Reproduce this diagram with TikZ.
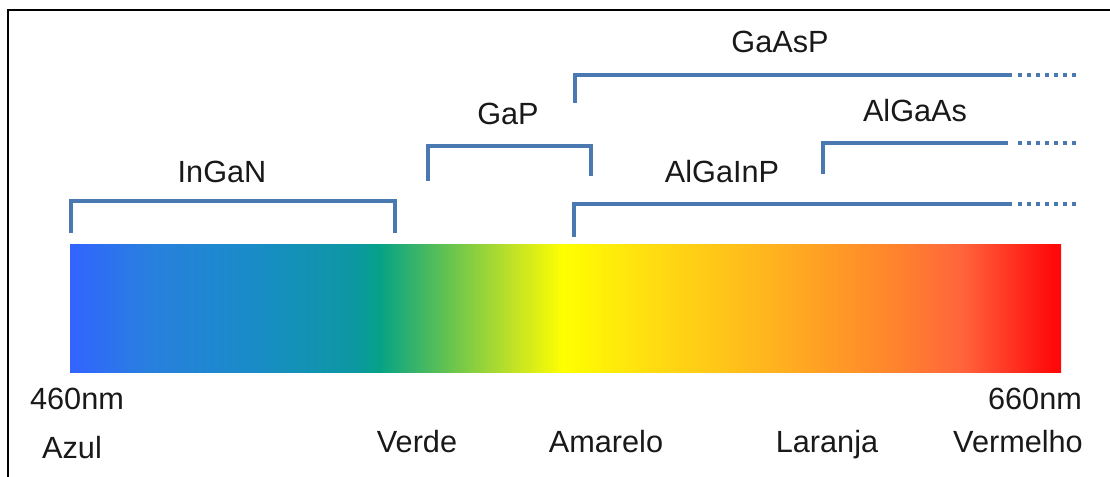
\documentclass[tikz,border=0pt]{standalone}
\usepackage{fontspec}
\setmainfont{Liberation Sans}
\usetikzlibrary{calc}

\definecolor{specA}{RGB}{50,100,255}
\definecolor{specB}{RGB}{40,128,222}
\definecolor{specC}{RGB}{25,140,200}
\definecolor{specD}{RGB}{12,152,160}
\definecolor{specE}{RGB}{5,162,135}
\definecolor{specF}{RGB}{100,195,80}
\definecolor{specG}{RGB}{190,225,40}
\definecolor{specH}{RGB}{255,255,0}
\definecolor{specI}{RGB}{255,225,15}
\definecolor{specJ}{RGB}{255,180,30}
\definecolor{specK}{RGB}{255,130,45}
\definecolor{specL}{RGB}{255,100,60}
\definecolor{specM}{RGB}{255,10,10}
\definecolor{bracketblue}{RGB}{74,120,176}

% visible spectrum, 460 nm (blue) to 660 nm (red); the bar spans 25bp..75bp
\pgfdeclarehorizontalshading{spectrum}{100bp}{%
  color(0bp)=(specA);
  color(25bp)=(specA);
  color(29.04bp)=(specB);
  color(34.24bp)=(specC);
  color(39.5bp)=(specD);
  color(40.6bp)=(specE);
  color(44.03bp)=(specF);
  color(47.26bp)=(specG);
  color(49.88bp)=(specH);
  color(53.77bp)=(specI);
  color(60.28bp)=(specJ);
  color(66.79bp)=(specK);
  color(70.02bp)=(specL);
  color(74.55bp)=(specM);
  color(75bp)=(specM);
  color(100bp)=(specM)}

\tikzset{
  frame/.style={line width=1.9pt, black},
  bracket/.style={line width=2.6pt, bracketblue, line join=miter},
  extension/.style={line width=2.6pt, bracketblue, dash pattern=on 3pt off 3.75pt},
  lbl/.style={font=\fontsize{23}{27}\selectfont, anchor=base, inner sep=0pt, text=black!90},
}

\begin{document}
\begin{tikzpicture}[x=0.75pt, y=-0.75pt]
  \useasboundingbox (0,0) rectangle (1110,477);
  \fill[white] (0,0) rectangle (1110,477);

  % outer frame: top and left edges
  \draw[frame] (8,477) -- (8,10) -- (1110,10);

  % spectrum bar
  \shade[shading=spectrum] (70,245) rectangle (1061,372);

  % InGaN
  \coordinate (ingan1) at (71,233);
  \coordinate (ingan2) at (395,233);
  \draw[bracket] (ingan1) |- (233,201) -| (ingan2);
  \node[lbl] (tingan) at (222,183) {InGaN};

  % GaP
  \coordinate (gap1) at (428,181);
  \coordinate (gap2) at (591,176);
  \draw[bracket] (gap1) |- (510,146) -| (gap2);
  \node[lbl] (tgap) at (508,125) {GaP};

  % GaAsP
  \coordinate (gaasp1) at (575,103);
  \coordinate (gaasp2) at (1012,75);
  \coordinate (gaasp3) at (1077,75);
  \draw[bracket] (gaasp1) |- (gaasp2);
  \draw[extension] (1018,75) -- (gaasp3);
  \node[lbl] (tgaasp) at (780,53) {GaAsP};

  % AlGaAs
  \coordinate (algaas1) at (823,174);
  \coordinate (algaas2) at (1008,143);
  \coordinate (algaas3) at (1077,143);
  \draw[bracket] (algaas1) |- (algaas2);
  \draw[extension] (1018,143) -- (algaas3);
  \node[lbl] (talgaas) at (915,122) {AlGaAs};

  % AlGaInP
  \coordinate (algainp1) at (574,237);
  \coordinate (algainp2) at (1012,204);
  \coordinate (algainp3) at (1077,204);
  \draw[bracket] (algainp1) |- (algainp2);
  \draw[extension] (1018,204) -- (algainp3);
  \node[lbl] (talgainp) at (722,183) {AlGaInP};

  % wavelength limits
  \node[lbl] (w460) at (77,409) {460nm};
  \node[lbl] (w660) at (1035,409) {660nm};

  % colour names
  \node[lbl] (azul) at (72,458) {Azul};
  \node[lbl] (verde) at (417,452) {Verde};
  \node[lbl] (amarelo) at (606,452) {Amarelo};
  \node[lbl] (laranja) at (827,452) {Laranja};
  \node[lbl] (vermelho) at (1018,452) {Vermelho};
\end{tikzpicture}
\end{document}
